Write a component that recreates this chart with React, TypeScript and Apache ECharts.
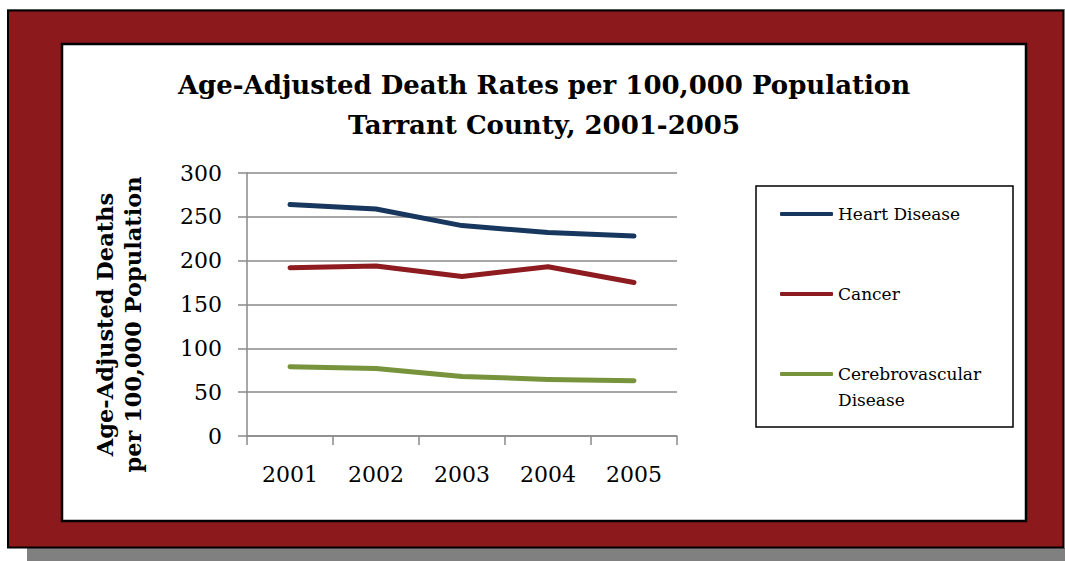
import React, { useEffect, useRef } from "react";
import * as echarts from "echarts";

// Age-adjusted death rates per 100,000, Tarrant County
const years = ["2001", "2002", "2003", "2004", "2005"];
const heartDisease = [264, 259, 240, 232, 228];
const cancer = [192, 194, 182, 193, 175];
const cerebrovascular = [79, 77, 68, 64.5, 63];

const seriesNames = ["Heart Disease", "Cancer", "Cerebrovascular Disease"];
const seriesColors = ["#17375E", "#8E1B1F", "#77933C"];

const titleLines = ["Age-Adjusted Death Rates per 100,000 Population", "Tarrant County, 2001-2005"];
const yAxisTitle = ["Age-Adjusted Deaths", "per 100,000 Population"];

const FONT = "'DejaVu Serif', serif";
const FRAME_RED = "#8C1A1D";
const GRID_GRAY = "#8A8A8A";
const LEGEND_LINE = 26;

// Every legend label is three lines tall so the items stack evenly;
// the long name wraps below its swatch instead of centring on it.
const legendLabel = (name: string) =>
  name === "Cerebrovascular Disease" ? " \nCerebrovascular\nDisease" : ` \n${name}\n `;

export default function App() {
  const ref = useRef<HTMLDivElement>(null);

  useEffect(() => {
    if (!ref.current) return;
    const chart = echarts.init(ref.current, null, { renderer: "svg" });

    const values = [heartDisease, cancer, cerebrovascular];

    chart.setOption({
      animation: false,
      backgroundColor: "#ffffff",
      graphic: [
        // drop shadow behind the frame
        { type: "rect", z: -20, shape: { x: 27, y: 548, width: 1040, height: 15 }, style: { fill: "#808080" } },
        { type: "rect", z: -20, shape: { x: 7, y: 9, width: 1058, height: 1 }, style: { fill: "#A8A8A8" } },
        // maroon frame
        {
          type: "rect",
          z: -19,
          shape: { x: 8, y: 10.5, width: 1055.5, height: 537 },
          style: { fill: FRAME_RED, stroke: "#000", lineWidth: 2 },
        },
        // white chart panel
        {
          type: "rect",
          z: -18,
          shape: { x: 62, y: 44, width: 964, height: 477 },
          style: { fill: "#ffffff", stroke: "#000", lineWidth: 2.5 },
        },
        // legend box
        {
          type: "rect",
          z: -17,
          shape: { x: 756, y: 186, width: 257, height: 241 },
          style: { fill: "#ffffff", stroke: "#000", lineWidth: 1.5 },
        },
      ],
      title: {
        text: titleLines.join("\n"),
        left: 544,
        top: 65,
        padding: 0,
        textAlign: "center",
        textStyle: {
          fontFamily: FONT,
          fontWeight: "bold",
          fontSize: 26,
          lineHeight: 40,
          color: "#000",
        },
      },
      legend: {
        orient: "vertical",
        left: 780,
        top: 214 - LEGEND_LINE * 1.5,
        padding: 0,
        itemGap: 80 - LEGEND_LINE * 3,
        itemWidth: 53,
        itemHeight: 4,
        icon: "roundRect",
        textStyle: { fontFamily: FONT, fontSize: 17, color: "#000", lineHeight: LEGEND_LINE },
        formatter: legendLabel,
        data: seriesNames,
      },
      grid: { left: 247, right: 388, top: 173, bottom: 125, containLabel: false },
      xAxis: {
        type: "category",
        data: years,
        boundaryGap: true,
        axisLine: { show: true, lineStyle: { color: GRID_GRAY, width: 1.5 } },
        axisTick: { show: true, length: 9, inside: false, lineStyle: { color: GRID_GRAY, width: 1.5 } },
        axisLabel: { fontFamily: FONT, fontSize: 22, color: "#000", margin: 27 },
        splitLine: { show: false },
      },
      yAxis: {
        type: "value",
        min: 0,
        max: 300,
        interval: 50,
        name: yAxisTitle.join("\n"),
        nameLocation: "middle",
        nameRotate: 90,
        nameGap: 100,
        nameTextStyle: {
          fontFamily: FONT,
          fontWeight: "bold",
          fontSize: 22.5,
          lineHeight: 28,
          color: "#000",
          padding: [0, 40, 0, 0],
        },
        axisLine: { show: true, lineStyle: { color: GRID_GRAY, width: 1.5 } },
        axisTick: { show: true, length: 9, inside: false, lineStyle: { color: GRID_GRAY, width: 1.5 } },
        axisLabel: { fontFamily: FONT, fontSize: 22, color: "#000", margin: 25 },
        splitLine: { show: true, lineStyle: { color: GRID_GRAY, width: 1.5 } },
      },
      series: seriesNames.map((name, i) => ({
        name,
        type: "line",
        data: values[i],
        symbol: "none",
        showSymbol: false,
        color: seriesColors[i],
        itemStyle: { color: seriesColors[i] },
        lineStyle: { width: 5, color: seriesColors[i], cap: "round", join: "round" },
      })),
    });

    return () => chart.dispose();
  }, []);

  return (
    <div
      ref={ref}
      style={{ position: "fixed", left: 0, top: 0, width: 1065, height: 561 }}
    />
  );
}
